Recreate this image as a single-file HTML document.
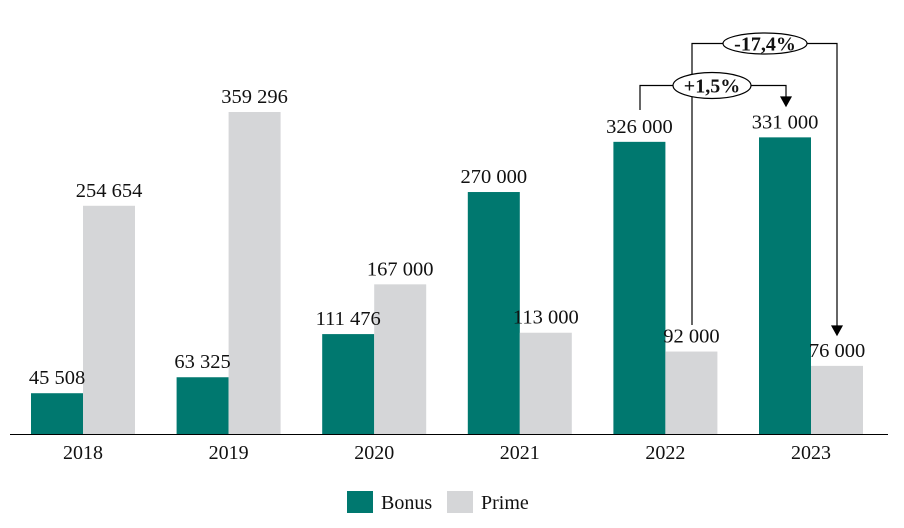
<!DOCTYPE html>
<html><head><meta charset="utf-8"><style>
html,body{margin:0;padding:0;background:#fff;}
svg{display:block;font-family:"Liberation Serif",serif;}
</style></head><body>
<svg id="chart" width="904" height="528"></svg>
<script>
const years=["2018","2019","2020","2021","2022","2023"];
const bonus=[45508,63325,111476,270000,326000,331000];
const prime=[254654,359296,167000,113000,92000,76000];
const bonusLabels=["45 508","63 325","111 476","270 000","326 000","331 000"];
const primeLabels=["254 654","359 296","167 000","113 000","92 000","76 000"];
const NS="http://www.w3.org/2000/svg";
const svg=document.getElementById('chart');
const base=434, scale=322/359296;
function y(v){return base-v*scale;}
function gx(i){return 31+i*145.6;}
function el(t,a,p){const e=document.createElementNS(NS,t);for(const k in a)e.setAttribute(k,a[k]);(p||svg).appendChild(e);return e;}
years.forEach((yr,i)=>{
  const x=gx(i);
  const b=el('rect',{x:x,y:y(bonus[i]),width:52,height:bonus[i]*scale,fill:'#00786f'});
  
  
  const p=el('rect',{x:x+52,y:y(prime[i]),width:52,height:prime[i]*scale,fill:'#d5d6d8'});
  
  
  const t1=el('text',{x:x+26,y:y(bonus[i])-9,'text-anchor':'middle','font-size':20.5,fill:'#111'});t1.textContent=bonusLabels[i];
  
  
  const t2=el('text',{x:x+78,y:y(prime[i])-9,'text-anchor':'middle','font-size':20.5,fill:'#111'});t2.textContent=primeLabels[i];
  
  
  const t3=el('text',{x:x+52,y:459,'text-anchor':'middle','font-size':20,fill:'#111'});t3.textContent=yr;
  
  
});
const ax=el('line',{x1:10,y1:434.5,x2:888,y2:434.5,stroke:'#000','stroke-width':1});


const g=el('g',{fill:'none',stroke:'#000','stroke-width':1.2});


el('polyline',{points:'640,110 640,85.5 786,85.5 786,98'},g);
el('polyline',{points:'692,325 692,43.5 837,43.5 837,327'},g);
el('polygon',{points:'781,97 791,97 786,106',fill:'#000'},g);
el('polygon',{points:'832,326 842,326 837,335',fill:'#000'},g);
el('ellipse',{cx:765,cy:43.5,rx:42,ry:10.5,fill:'#fff'},g);
el('ellipse',{cx:712,cy:85.5,rx:39,ry:13,fill:'#fff'},g);
const a1=el('text',{x:765,y:50.5,'text-anchor':'middle','font-size':20,'font-weight':'bold',fill:'#111'});a1.textContent='-17,4%';


const a2=el('text',{x:712,y:92.5,'text-anchor':'middle','font-size':20,'font-weight':'bold',fill:'#111'});a2.textContent='+1,5%';


const l1=el('rect',{x:347,y:491,width:26,height:22,fill:'#00786f'});


const lt1=el('text',{x:381,y:509,'font-size':20,fill:'#111'});lt1.textContent='Bonus';


const l2=el('rect',{x:447,y:491,width:26,height:22,fill:'#d5d6d8'});


const lt2=el('text',{x:481,y:509,'font-size':20,fill:'#111'});lt2.textContent='Prime';


</script>
</body></html>
